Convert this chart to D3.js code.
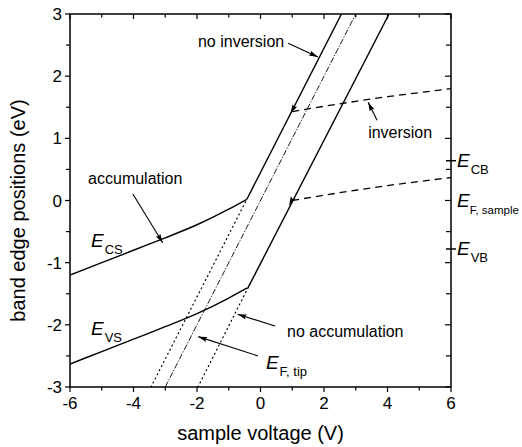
<!DOCTYPE html>
<html>
<head>
<meta charset="utf-8">
<script src="https://cdn.jsdelivr.net/npm/d3@7"></script>
<style>
  html, body { margin: 0; padding: 0; background: #fff; }
  svg text { font-family: "Liberation Sans", Arial, Helvetica, sans-serif; fill: #000; }
</style>
</head>
<body>
<svg id="chart" width="522" height="447"></svg>
<script>
// Surface band edges versus sample voltage (accumulation side, kink, and steep part)
const csVolts = [-6, -5, -4, -3, -2, -1, -0.43];
const csEnergy = [-1.20, -1.00, -0.80, -0.60, -0.39, -0.14, 0.02];
const bandGap = 1.43;

// Steep (no accumulation / no inversion) branches
const upperSteepV = [-0.43, 2.55];
const upperSteepE = [0.02, 3.0];
const lowerSteepV = [-0.40, 4.05];
const lowerSteepE = [-1.41, 3.0];

// Dotted continuations of the steep branches
const upperDotV = [-3.45, -0.43];
const upperDotE = [-3.0, 0.02];
const lowerDotV = [-1.97, -0.40];
const lowerDotE = [-3.0, -1.41];

// Tip Fermi level
const tipV = [-3, 3];
const tipE = [-3, 3];

// Inversion branches (dashed): lower one, upper one is shifted by the gap
const invVolts = [1.0, 2, 3, 4, 5, 6];
const invLower = [0.00, 0.085, 0.165, 0.24, 0.305, 0.37];

// Bulk reference levels on the right axis
const ecb = 0.64;
const evb = -0.78;
const efSample = 0.0;

const xTicks = [-6, -4, -2, 0, 2, 4, 6];
const yTicks = [-3, -2, -1, 0, 1, 2, 3];

const svg = d3.select("#chart");
const x = d3.scaleLinear().domain([-6, 6]).range([70, 451]);
const y = d3.scaleLinear().domain([-3, 3]).range([387, 14]);

const defs = svg.append("defs");
defs.append("clipPath").attr("id", "plotClip")
  .append("rect").attr("x", 70).attr("y", 14).attr("width", 381).attr("height", 373);
defs.append("marker").attr("id", "head")
  .attr("viewBox", "-10 -4 12 8").attr("refX", 0).attr("refY", 0)
  .attr("markerWidth", 12).attr("markerHeight", 8)
  .attr("markerUnits", "userSpaceOnUse").attr("orient", "auto")
  .append("path").attr("d", "M0,0 L-9,-2.6 L-7.5,0 L-9,2.6 Z").attr("fill", "#000");

const pts = (vs, es) => vs.map((v, i) => [v, es[i]]);
const line = d3.line().x(d => x(d[0])).y(d => y(d[1]));
const curve = d3.line().x(d => x(d[0])).y(d => y(d[1])).curve(d3.curveMonotoneX);

const plot = svg.append("g").attr("clip-path", "url(#plotClip)");

function draw(path, style) {
  const p = plot.append("path").attr("d", path).attr("fill", "none").attr("stroke", "#000");
  Object.entries(style).forEach(([k, v]) => p.attr(k, v));
  return p;
}

const solid = { "stroke-width": 1.4 };
draw(curve(pts(csVolts, csEnergy)), solid);
draw(curve(pts(csVolts, csEnergy.map(e => e - bandGap))), solid);
draw(line(pts(upperSteepV, upperSteepE)), solid);
draw(line(pts(lowerSteepV, lowerSteepE)), solid);

const dotted = { "stroke-width": 1.2, "stroke-dasharray": "1,3.6", "stroke-linecap": "round" };
draw(line(pts(upperDotV, upperDotE)), dotted);
draw(line(pts(lowerDotV, lowerDotE)), dotted);

draw(line(pts(tipV, tipE)), { "stroke-width": 0.9, "stroke-dasharray": "6,1.6,1.2,1.6" });

const dashed = { "stroke-width": 1.3, "stroke-dasharray": "7,5" };
draw(curve(pts(invVolts, invLower)), dashed);
draw(curve(pts(invVolts, invLower.map(e => e + bandGap))), dashed);

// small heads marking where the inversion branches leave the steep lines
[[0.95, 1.40], [0.90, -0.08]].forEach(([v, e]) => {
  plot.append("path")
    .attr("d", line([[v + 0.25, e + 0.25], [v, e]]))
    .attr("stroke", "none").attr("fill", "none")
    .attr("marker-end", "url(#head)");
});

// Frame
svg.append("rect").attr("x", 70).attr("y", 14).attr("width", 381).attr("height", 373)
  .attr("fill", "none").attr("stroke", "#000").attr("stroke-width", 1.5);

// Ticks: outward on bottom/left, inward on top/right
const tk = svg.append("g").attr("stroke", "#000").attr("stroke-width", 1.2);
d3.range(-6, 6.01, 1).forEach(v => {
  const major = v % 2 === 0;
  const len = major ? 5 : 3.5;
  tk.append("line").attr("x1", x(v)).attr("x2", x(v)).attr("y1", 387).attr("y2", 387 + len);
  tk.append("line").attr("x1", x(v)).attr("x2", x(v)).attr("y1", 14).attr("y2", 14 + len);
});
d3.range(-3, 3.01, 0.5).forEach(e => {
  const major = Math.abs(e % 1) < 1e-9;
  const len = major ? 5 : 4;
  tk.append("line").attr("x1", 70 - len).attr("x2", 70).attr("y1", y(e)).attr("y2", y(e));
  tk.append("line").attr("x1", 451 - (major ? 6 : 5)).attr("x2", 451).attr("y1", y(e)).attr("y2", y(e));
});
[ecb, evb].forEach(e => {
  tk.append("line").attr("x1", 446).attr("x2", 456).attr("y1", y(e)).attr("y2", y(e)).attr("stroke-width", 1.5);
});

// Tick labels
svg.append("g").selectAll("text").data(xTicks).join("text")
  .attr("x", d => x(d)).attr("y", 409).attr("text-anchor", "middle")
  .attr("font-size", 17).text(d => d < 0 ? "-" + Math.abs(d) : d);
svg.append("g").selectAll("text").data(yTicks).join("text")
  .attr("x", 62).attr("y", d => y(d) + 6).attr("text-anchor", "end")
  .attr("font-size", 17).text(d => d < 0 ? "-" + Math.abs(d) : d);

// Axis titles
svg.append("text").attr("x", x(0) + 0).attr("y", 440).attr("text-anchor", "middle")
  .attr("font-size", 20).text("sample voltage (V)");
svg.append("text").attr("transform", `translate(25,${y(0) + 10}) rotate(-90)`)
  .attr("text-anchor", "middle").attr("font-size", 20).text("band edge positions (eV)");

// Annotations
function arrow(from, to) {
  svg.append("path").attr("d", line([from, to]))
    .attr("stroke", "#000").attr("stroke-width", 1.1).attr("fill", "none")
    .attr("marker-end", "url(#head)");
}
function note(v, e, txt) {
  svg.append("text").attr("x", x(v)).attr("y", y(e)).attr("font-size", 16).text(txt);
}
function level(px, py, sub, big = 19, small = 13, gap = 1) {
  const t = svg.append("text").attr("x", px).attr("y", py);
  t.append("tspan").attr("font-size", big).attr("font-style", "italic").text("E");
  t.append("tspan").attr("font-size", small).attr("dy", 7).attr("dx", gap).text(sub);
}

note(-1.97, 2.47, "no inversion");
arrow([0.87, 2.53], [1.81, 2.31]);
note(3.39, 1.005, "inversion");
arrow([3.67, 1.29], [3.39, 1.58]);
note(-5.43, 0.265, "accumulation");
arrow([-4.02, 0.105], [-3.08, -0.68]);
note(0.835, -2.196, "no accumulation");
arrow([0.46, -2.02], [-0.72, -1.83]);
arrow([-0.08, -2.50], [-1.96, -2.19]);

level(x(-5.34), y(-0.75), "CS");
level(x(-5.34), y(-2.16), "VS");
level(x(0.17), y(-2.71), "F, tip");
level(457, y(ecb) + 6, "CB");
level(457, y(efSample) + 6, "F, sample", 19, 11.5, 0);
level(457, y(evb) + 6, "VB");
</script>
</body>
</html>
